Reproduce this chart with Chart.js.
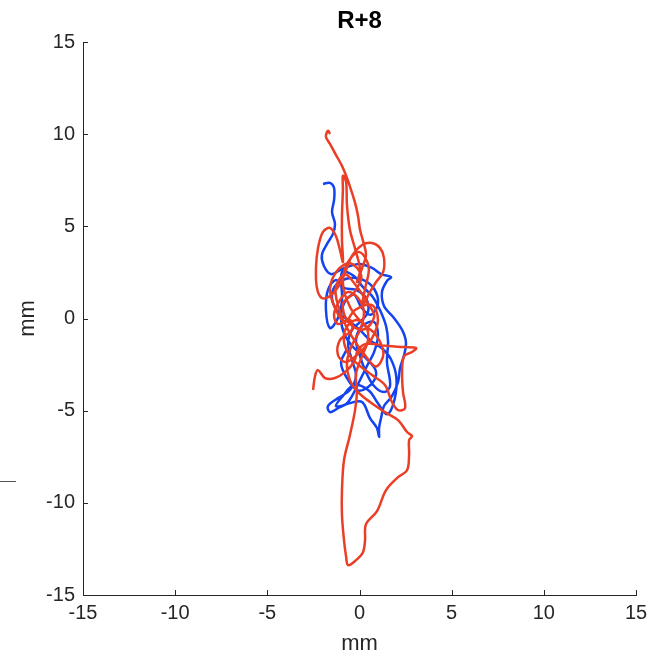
<!DOCTYPE html>
<html>
<head>
<meta charset="utf-8">
<script src="https://cdn.jsdelivr.net/npm/chart.js@4.4.1/dist/chart.umd.min.js"></script>
<style>
  html, body { margin: 0; padding: 0; background: #fff; }
  #wrap { width: 666px; height: 655px; }
</style>
</head>
<body>
<div id="wrap"><canvas id="traceChart" width="666" height="655"></canvas></div>
<script>
// Sway traces (mm), x = mediolateral, y = anteroposterior
const redX = [-2.52, -2.41, -2.25, -1.87, -1.33, -0.79, -0.30, -0.08, 0.35, 1.55, 2.42, 3.07, 2.85, 2.42, 2.31, 2.36, 2.47, 2.09, 1.76, 1.38,
  0.68, 0.03, -0.52, -0.84, -0.73, -0.19, 0.35, 0.46, 0.14, -0.19, -0.14, -0.24, -0.52, -0.84, -0.95, -0.95, -0.84, -0.73, -0.62, -0.19,
  0.19, 0.30, 0.35, 0.95, 1.44, 2.09, 2.58, 2.69, 2.69, 2.85, 2.58, 2.09, 1.38, 0.57, -0.08, -0.52, -0.68, -0.41, 0.03, 0.24,
  -0.08, -0.62, -1.06, -1.38, -1.17, -0.52, -0.41, -1.06, -1.17, -0.73, 0.03, 0.68, 1.00, 0.68, -0.24, -0.79,
  -1.30, -1.60, -1.20, -0.50, 0.10, -0.30, -0.90, -0.60, 0.20, 0.80, 0.40,
  -0.20, -0.80, -1.30, -1.00, -0.40, 0.30, 0.90, 1.30, 0.90, 0.20, -0.50, -0.90, -0.60, 0.00, 0.50, 0.30,
  0.14, 0.57, 0.90, 1.28,
  1.33, 1.11, 0.68, 0.14, -0.41, -0.73, -1.06, -1.60, -2.04, -2.31, -2.36, -2.25, -1.98, -1.60, -1.28, -1.06, -0.90, -0.95, -0.95, -0.90,
  -0.90, -0.73, -0.68, -0.52, -0.19, 0.03, -0.14, 0.14, 0.35, 0.19, 0.03, -0.08, -0.24, -0.46, -0.68, -0.95, -1.28, -1.60, -1.82, -1.71, -1.60];
const redY = [-3.88, -3.12, -2.80, -3.23, -3.23, -2.91, -2.36, -1.71, -1.38, -1.49, -1.55, -1.60, -1.82, -2.04, -2.91, -3.99, -4.86, -4.97, -4.53, -3.61,
  -3.07, -2.58, -2.04, -1.28, -0.52, -0.08, -0.41, -1.17, -2.04, -3.01, -3.99, -4.97, -6.33, -7.68, -9.31, -10.67, -12.03, -12.89, -13.38, -13.11,
  -12.68, -12.03, -11.16, -10.45, -9.31, -8.61, -8.23, -7.41, -6.60, -6.38, -6.16, -5.51, -5.08, -4.53, -3.99, -3.34, -2.36, -1.44, -0.62, 0.35,
  1.11, 1.44, 1.00, 0.24, -0.30, -0.08, -0.62, -1.17, -1.98, -2.36, -1.82, -1.06, -0.08, 0.73, 0.46, -0.19,
  0.50, 1.60, 2.60, 3.00, 2.30, 1.40, 0.80, -0.20, -0.60, 0.10, 0.90,
  1.80, 2.40, 1.60, 0.20, -1.00, -2.00, -2.60, -1.90, -0.90, -0.30, 0.60, 1.90, 3.10, 3.60, 2.80, 1.60,
  0.68, 1.44, 1.98, 2.52,
  3.28, 3.83, 4.10, 3.99, 3.39, 2.63, 1.87, 1.22, 1.11, 1.66, 2.74, 3.83, 4.70, 4.91, 4.48, 3.72, 3.07, 4.26, 5.62, 6.98,
  7.74, 7.41, 6.16, 4.81, 3.61, 2.63, 1.98, 2.74, 3.45, 4.21, 4.81, 5.56, 6.27, 6.98, 7.63, 8.28, 8.88, 9.47, 9.86, 10.18, 10.01];

const blueX = [-1.98, -1.60, -1.38, -1.38, -1.49, -1.33, -1.44, -1.76, -2.04, -1.93, -1.55, -1.06, -0.52, 0.03, 0.68, 1.17, 1.71, 1.49, 1.22, 1.33,
  1.87, 2.31, 2.52, 2.42, 2.20, 2.09, 1.76, 1.33, 1.17, 1.06, 1.06, 0.95, 0.57, 0.14, -0.52, -1.06, -1.60, -1.71, -1.17, -0.52,
  -0.19, -0.41, -0.62, -0.41, 0.03, 0.46, 0.35, -0.19, -0.84, -1.28, -1.71, -1.82, -1.60, -1.17, -0.95, -0.95, -0.30, 0.14, 0.68, 1.11,
  1.44, 1.55, 1.49, 1.66, 1.33, 0.79, 0.35, 0.03, -0.19, 0.14, 0.79, 1.00, 0.79, 0.46, 0.03, -0.41, -0.73, -1.28,
  -0.90, -0.30, 0.50, 1.00, 1.50, 1.90, 2.00, 1.70, 1.20, 0.60, 0.00, -0.60, -1.20, -1.50, -1.20, -0.50, 0.20, 0.80, 1.00, 0.60,
  0.10, -0.30, -0.80, -1.00, -0.80, -0.30, 0.40, 0.90, 0.60, -0.10, -0.70, -1.00, -0.70];
const blueY = [7.30, 7.36, 7.08, 6.43, 5.78, 5.13, 4.59, 4.05, 3.45, 2.85, 2.41, 2.63, 2.85, 2.96, 2.74, 2.41, 2.25, 2.04, 1.44, 0.68,
  0.03, -0.62, -1.28, -1.98, -2.69, -3.45, -4.21, -4.75, -5.40, -5.95, -6.43, -5.95, -5.40, -4.53, -4.59, -4.81, -5.08, -4.75, -4.32, -3.88,
  -3.12, -2.25, -1.38, -0.62, -0.19, 0.35, 1.11, 1.55, 1.66, 2.09, 1.55, 0.46, -0.52, 0.03, 1.00, 2.52, 2.31, 1.76, 1.22, 0.46,
  -0.41, -1.28, -2.36, -3.66, -3.99, -3.66, -2.91, -2.04, -1.17, -0.41, -0.19, -0.95, -1.82, -2.47, -3.34, -4.21, -4.64, -4.75,
  -4.20, -3.60, -3.90, -4.60, -5.20, -4.40, -3.20, -2.20, -1.60, -1.20, -0.60, -0.10, 0.40, 1.20, 1.90, 2.20, 2.10, 1.60, 0.80, 0.20,
  0.60, 1.30, 0.90, 0.00, -0.90, -1.60, -2.20, -2.90, -3.60, -3.90, -3.20, -2.40, -1.70];

const tickValues = [-15, -10, -5, 0, 5, 10, 15];
const axisMin = -15;
const axisMax = 15;

function toPoints(xs, ys) {
  return xs.map((x, i) => ({ x: x, y: ys[i] }));
}

const axisColor = "#262626";
const fontFamily = "'Liberation Sans', Arial, Helvetica, sans-serif";

// MATLAB style ticks pointing into the plot, plus the stub at the left edge
const innerTicks = {
  id: "innerTicks",
  afterDraw(chart) {
    const ctx = chart.ctx;
    const xs = chart.scales.x;
    const ys = chart.scales.y;
    const area = chart.chartArea;
    ctx.save();
    ctx.strokeStyle = axisColor;
    ctx.lineWidth = 1;
    ctx.beginPath();
    tickValues.forEach(v => {
      const px = Math.round(xs.getPixelForValue(v)) + 0.5;
      ctx.moveTo(px, area.bottom);
      ctx.lineTo(px, area.bottom - 5);
      const py = Math.round(ys.getPixelForValue(v)) + 0.5;
      ctx.moveTo(area.left, py);
      ctx.lineTo(area.left + 5, py);
    });
    ctx.stroke();
    ctx.beginPath();
    ctx.strokeStyle = "#555";
    ctx.moveTo(0, 481.5);
    ctx.lineTo(16, 481.5);
    ctx.stroke();
    ctx.restore();
  }
};

new Chart(document.getElementById("traceChart"), {
  type: "scatter",
  data: {
    datasets: [
      {
        label: "R+8 trial 2",
        data: toPoints(redX, redY),
        showLine: true,
        borderColor: "rgb(235,62,38)",
        borderWidth: 2.5,
        pointRadius: 0,
        tension: 0.35
      },
      {
        label: "R+8 trial 1",
        data: toPoints(blueX, blueY),
        showLine: true,
        borderColor: "rgb(20,68,240)",
        borderWidth: 2.5,
        pointRadius: 0,
        tension: 0.35
      }
    ]
  },
  options: {
    responsive: false,
    animation: false,
    layout: { padding: { left: 0, right: 30, top: 0, bottom: 0 } },
    plugins: {
      legend: { display: false },
      tooltip: { enabled: false },
      title: {
        display: true,
        text: "R+8",
        fullSize: false,
        color: "#000",
        font: { family: fontFamily, size: 24, weight: "bold" },
        padding: { top: 6.6, bottom: 6.6 }
      }
    },
    scales: {
      x: {
        type: "linear",
        min: axisMin,
        max: axisMax,
        afterFit(scale) { scale.height = 60; },
        afterBuildTicks(scale) { scale.ticks = tickValues.map(v => ({ value: v })); },
        grid: { display: false, drawTicks: false },
        border: { display: true, color: axisColor, width: 1 },
        ticks: { color: axisColor, padding: 6, font: { family: fontFamily, size: 20 } },
        title: {
          display: true,
          text: "mm",
          color: axisColor,
          font: { family: fontFamily, size: 22 },
          padding: { top: 0, bottom: -2 }
        }
      },
      y: {
        type: "linear",
        min: axisMin,
        max: axisMax,
        afterFit(scale) { scale.width = 83; },
        afterBuildTicks(scale) { scale.ticks = tickValues.map(v => ({ value: v })); },
        grid: { display: false, drawTicks: false },
        border: { display: true, color: axisColor, width: 1 },
        ticks: { color: axisColor, padding: 8, font: { family: fontFamily, size: 20 } },
        title: {
          display: true,
          text: "mm",
          color: axisColor,
          font: { family: fontFamily, size: 22 },
          padding: { top: 15, bottom: 15 }
        }
      }
    }
  },
  plugins: [innerTicks]
});
</script>
</body>
</html>
